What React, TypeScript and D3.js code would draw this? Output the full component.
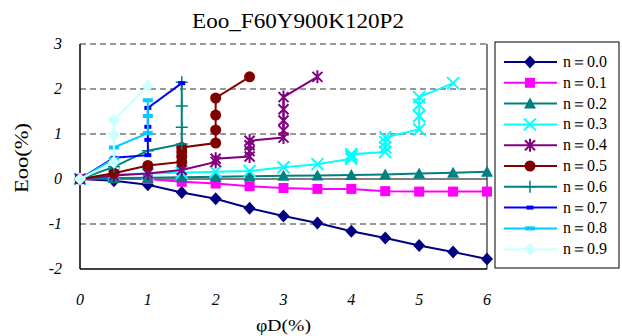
import * as d3 from 'd3'

// ─── Data ────────────────────────────────────────────────────────────────────

const TITLE = 'Eoo_F60Y900K120P2'
const X_TICKS = [0, 1, 2, 3, 4, 5, 6]
const Y_TICKS = [3, 2, 1, 0, -1, -2]
const GRID_Y = [3, 2, 1, -1]

const PHI_D = [0, 0.5, 1, 1.5, 2, 2.5, 3, 3.5, 4, 4.5, 5, 5.5, 6]

const N00_Y = [0, -0.04, -0.13, -0.3, -0.44, -0.65, -0.82, -0.98, -1.16, -1.31, -1.48, -1.62, -1.78]
const N01_Y = [0, 0.02, 0.0, -0.06, -0.1, -0.16, -0.2, -0.22, -0.22, -0.27, -0.28, -0.28, -0.28]
const N02_Y = [0, 0.02, 0.03, 0.04, 0.05, 0.06, 0.07, 0.08, 0.09, 0.1, 0.12, 0.14, 0.16]

const N03_X = [0, 0.5, 1, 1.5, 2, 2.5, 3, 3.5, 4, 4, 4, 4.5, 4.5, 4.5, 4.5, 5, 5, 5, 5, 5.5]
const N03_Y = [0, 0.1, 0.12, 0.14, 0.16, 0.18, 0.26, 0.33, 0.45, 0.5, 0.55, 0.6, 0.7, 0.82, 0.93, 1.1, 1.4, 1.65, 1.82, 2.13]

const N04_X = [0, 0.5, 1, 1.5, 2, 2, 2.5, 2.5, 2.5, 2.5, 3, 3, 3, 3, 3, 3.5]
const N04_Y = [0, 0.08, 0.12, 0.2, 0.38, 0.45, 0.5, 0.62, 0.75, 0.85, 0.92, 1.08, 1.3, 1.55, 1.82, 2.27]

const N05_X = [0, 0.5, 1, 1.5, 1.5, 1.5, 1.5, 2, 2, 2, 2, 2.5]
const N05_Y = [0, 0.13, 0.3, 0.38, 0.5, 0.6, 0.7, 0.8, 1.09, 1.42, 1.8, 2.27]

const N06_X = [0, 0.5, 1, 1.5, 1.5, 1.5, 1.5]
const N06_Y = [0, 0.27, 0.63, 0.78, 1.15, 1.62, 2.15]

const N07_X = [0, 0.5, 1, 1, 1, 1, 1.5]
const N07_Y = [0, 0.47, 0.53, 0.87, 1.16, 1.58, 2.13]

const N08_X = [0, 0.5, 0.5, 1, 1, 1]
const N08_Y = [0, 0.45, 0.7, 1.02, 1.4, 1.75]

const N09_X = [0, 0.5, 0.5, 0.5, 1]
const N09_Y = [0, 0.37, 0.98, 1.31, 2.07]

const LABELS = ['n＝0.0', 'n＝0.1', 'n＝0.2', 'n＝0.3', 'n＝0.4', 'n＝0.5', 'n＝0.6', 'n＝0.7', 'n＝0.8', 'n＝0.9']
const COLORS = ['#000080', '#FF00FF', '#008080', '#00FFFF', '#800080', '#800000', '#008080', '#0000FF', '#00CCFF', '#CCFFFF']
const MARKERS = ['diamond', 'square', 'triangle', 'x', 'star', 'circle', 'plus', 'dash', 'bar', 'diamond']

const SERIES_X = [PHI_D, PHI_D, PHI_D, N03_X, N04_X, N05_X, N06_X, N07_X, N08_X, N09_X]
const SERIES_Y = [N00_Y, N01_Y, N02_Y, N03_Y, N04_Y, N05_Y, N06_Y, N07_Y, N08_Y, N09_Y]

// ─── Layout ──────────────────────────────────────────────────────────────────

const W = 622
const H = 336
const PLOT = { left: 80, right: 487, top: 44, bottom: 269 }
const SERIF = '"Liberation Serif", "DejaVu Serif", serif'

const xScale = d3.scaleLinear().domain([0, 6]).range([PLOT.left, PLOT.right])
const yScale = d3.scaleLinear().domain([-2, 3]).range([PLOT.bottom, PLOT.top])

// ─── Marker ──────────────────────────────────────────────────────────────────

function Marker({ type, cx, cy, color }: { type: string; cx: number; cy: number; color: string }) {
  const t = `translate(${cx},${cy})`
  switch (type) {
    case 'diamond':
      return <path transform={t} d="M0,-6.5L6,0L0,6.5L-6,0Z" fill={color} />
    case 'square':
      return <rect x={cx - 5} y={cy - 5} width={10} height={10} fill={color} />
    case 'triangle':
      return <path transform={t} d="M0,-6L6,5L-6,5Z" fill={color} />
    case 'circle':
      return <circle cx={cx} cy={cy} r={5.5} fill={color} />
    case 'x':
      return <path transform={t} d="M-6,-6L6,6M-6,6L6,-6" stroke={color} strokeWidth={2} />
    case 'plus':
      return <path transform={t} d="M-6,0L6,0M0,-6L0,6" stroke={color} strokeWidth={1.5} />
    case 'star':
      return <path transform={t} d="M-5,-5L5,5M-5,5L5,-5M0,-6.5L0,6.5" stroke={color} strokeWidth={2} />
    case 'dash':
      return <rect x={cx - 3.5} y={cy - 2} width={7} height={4} fill={color} />
    case 'bar':
      return <rect x={cx - 5} y={cy - 2} width={10} height={4} fill={color} />
    default:
      return null
  }
}

// ─── App ─────────────────────────────────────────────────────────────────────

export default function App() {
  const line = d3.line<[number, number]>()
    .x((d) => xScale(d[0]))
    .y((d) => yScale(d[1]))

  const legendTop = 62
  const legendStep = 20.8

  return (
    <div style={{ position: 'fixed', left: 0, top: 0 }}>
      <svg width={W} height={H} style={{ display: 'block', background: '#fff' }}>
        {/* Title */}
        <text x={192} y={28} fontFamily={SERIF} fontSize={20} textLength={212} lengthAdjust="spacingAndGlyphs">{TITLE}</text>

        {/* Gridlines */}
        {GRID_Y.map((v) => (
          <line key={v} x1={PLOT.left} x2={PLOT.right} y1={yScale(v)} y2={yScale(v)}
            stroke="#333" strokeWidth={1} strokeDasharray="6,4" />
        ))}

        {/* Plot borders */}
        <line x1={PLOT.left} x2={PLOT.left} y1={PLOT.top} y2={PLOT.bottom} stroke="#000" strokeWidth={1.5} />
        <line x1={PLOT.right} x2={PLOT.right} y1={PLOT.top} y2={PLOT.bottom} stroke="#000" strokeWidth={1} />
        <line x1={PLOT.left} x2={PLOT.right} y1={PLOT.bottom} y2={PLOT.bottom} stroke="#000" strokeWidth={1.5} />
        <line x1={PLOT.left} x2={PLOT.right} y1={yScale(0)} y2={yScale(0)} stroke="#000" strokeWidth={1} />

        {/* Y ticks */}
        {Y_TICKS.map((v) => (
          <text key={v} x={62} y={yScale(v) + 5} textAnchor="end" fontFamily={SERIF}
            fontStyle="italic" fontSize={16}>{v}</text>
        ))}

        {/* X ticks */}
        {X_TICKS.map((v) => (
          <text key={v} x={xScale(v)} y={305} textAnchor="middle" fontFamily={SERIF}
            fontStyle="italic" fontSize={16}>{v}</text>
        ))}

        {/* Axis titles */}
        <text x={256} y={331} fontFamily={SERIF} fontSize={16} textLength={55} lengthAdjust="spacingAndGlyphs">φD(%)</text>
        <text transform="translate(28,193) rotate(-90)" fontFamily={SERIF} fontSize={18}
          textLength={70} lengthAdjust="spacingAndGlyphs">Eoo(%)</text>

        {/* Series */}
        {SERIES_Y.map((ys, i) => {
          const pts = ys.map((v, j) => [SERIES_X[i][j], v] as [number, number])
          return (
            <g key={i}>
              <path d={line(pts) ?? ''} fill="none" stroke={COLORS[i]} strokeWidth={2} />
              {pts.map((p, j) => (
                <Marker key={j} type={MARKERS[i]} cx={xScale(p[0])} cy={yScale(p[1])} color={COLORS[i]} />
              ))}
            </g>
          )
        })}

        {/* Legend */}
        <rect x={495} y={42} width={124} height={226} fill="#fff" stroke="#000" strokeWidth={1} />
        {LABELS.map((lab, i) => {
          const yy = legendTop + i * legendStep
          return (
            <g key={lab}>
              <line x1={504} x2={557} y1={yy} y2={yy} stroke={COLORS[i]} strokeWidth={2} />
              <Marker type={MARKERS[i]} cx={530} cy={yy} color={COLORS[i]} />
              <text x={563} y={yy + 5} fontFamily={SERIF} fontSize={16}>{lab}</text>
            </g>
          )
        })}
      </svg>
    </div>
  )
}
